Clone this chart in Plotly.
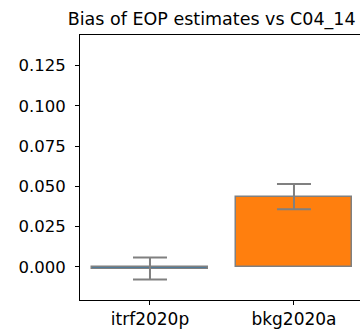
import plotly.graph_objects as go

categories = ["itrf2020p", "bkg2020a"]
bias = [-0.001, 0.0436]
bias_err = [0.0068, 0.0078]
bar_colors = ["#1f77b4", "#ff7f0e"]
y_ticks = [0.0, 0.025, 0.05, 0.075, 0.1, 0.125]
title_text = "Bias of EOP estimates vs C04_14"

fig = go.Figure()
fig.add_trace(go.Bar(
    x=[0, 1], y=bias, width=0.8,
    marker=dict(color=bar_colors, line=dict(color="#808080", width=1.5)),
    error_y=dict(type="data", array=bias_err, visible=True, color="#808080", thickness=2, width=17),
))

font = dict(family="DejaVu Sans", size=16.5, color="#000000")
fig.update_layout(
    width=360, height=331,
    margin=dict(l=80, r=0, t=35, b=31),
    paper_bgcolor="white", plot_bgcolor="white",
    showlegend=False, font=font,
    title=dict(text=title_text, x=211.7 / 360, xanchor="center", y=1 - 19 / 331, yanchor="middle",
               font=dict(family="DejaVu Sans", size=17.5, color="#000000")),
    bargap=0,
)
fig.update_xaxes(
    range=[-0.486, -0.486 + 280 / 144], tickvals=[0, 1], ticktext=categories,
    showline=True, linecolor="black", linewidth=1, mirror=True,
    ticks="outside", ticklen=4, tickcolor="black", showgrid=False, zeroline=False,
    tickfont=dict(family="DejaVu Sans", size=17, color="#000000"),
)
fig.update_yaxes(
    range=[-0.0205, 0.1439], tickvals=y_ticks, tickformat=".3f",
    showline=True, linecolor="black", linewidth=1, mirror=False,
    ticks="outside", ticklen=4, tickcolor="black", showgrid=False, zeroline=False,
    ticklabelstandoff=6,
    tickfont=font,
)
fig.write_html("out.html")
